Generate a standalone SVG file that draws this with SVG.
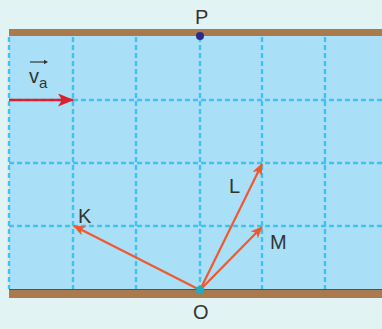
<svg xmlns="http://www.w3.org/2000/svg" width="382" height="329" viewBox="0 0 382 329">
<style>
.grid{stroke:#3fc2f0;stroke-width:2.4;stroke-dasharray:5 3;fill:none}
.vec{stroke:#f0582e;stroke-width:2.2;fill:none}
.lbl{font-family:"Liberation Sans",Arial,sans-serif;font-size:20px;fill:#333}
</style>
<defs>
<marker id="ah" markerWidth="12" markerHeight="10" refX="11" refY="5" orient="auto" markerUnits="userSpaceOnUse">
<path d="M0,0 L12,5 L0,10 L3,5 Z" fill="#f0582e"/>
</marker>
<marker id="ahr" markerWidth="16" markerHeight="13" refX="15" refY="6.5" orient="auto" markerUnits="userSpaceOnUse">
<path d="M0,0 L16,6.5 L0,13 L4,6.5 Z" fill="#d9202e"/>
</marker>
</defs>
<rect width="382" height="329" fill="#e2f3f3"/>
<rect x="9" y="36" width="373" height="254" fill="#a9e0f8"/>
<g id="grid">
<path class="grid" d="M9,37V289M73,37V289M136,37V289M200,37V289M262,37V289M325,37V289"/>
<path class="grid" d="M9,100H382M9,163H382M9,226H382"/>
</g>
<rect id="bank-top" x="9" y="29" width="373" height="7" fill="#a97a4e"/>
<g id="bank-bottom">
<rect x="9" y="289" width="373" height="9" fill="#a97a4e"/>
<line x1="9" y1="289.5" x2="382" y2="289.5" stroke="#6e4a2a" stroke-width="1"/>
</g>
<g id="connectors">
<line class="vec" x1="200" y1="290" x2="74" y2="226" marker-end="url(#ah)"/>
<line class="vec" x1="200" y1="290" x2="262" y2="164" marker-end="url(#ah)"/>
<line class="vec" x1="200" y1="290" x2="262" y2="227" marker-end="url(#ah)"/>
<line x1="9" y1="100" x2="73" y2="100" stroke="#d9202e" stroke-width="2.6" marker-end="url(#ahr)"/>
</g>
<g id="P">
<circle cx="200" cy="36" r="4" fill="#2b2a8c"/>
<text class="lbl" x="195" y="24">P</text>
</g>
<g id="O">
<circle cx="200" cy="290" r="4" fill="#1aafc3"/>
<text class="lbl" x="193" y="319">O</text>
</g>
<g id="K"><text class="lbl" x="78" y="223">K</text></g>
<g id="L"><text class="lbl" x="229" y="193">L</text></g>
<g id="M"><text class="lbl" x="270" y="249">M</text></g>
<g id="va">
<text class="lbl" x="29" y="83">v<tspan font-size="15" dy="5">a</tspan></text>
<line x1="30" y1="62" x2="45" y2="62" stroke="#333" stroke-width="1.2"/>
<path d="M44,59.8 L48,62 L44,64.2 Z" fill="#333"/>
</g>
</svg>
